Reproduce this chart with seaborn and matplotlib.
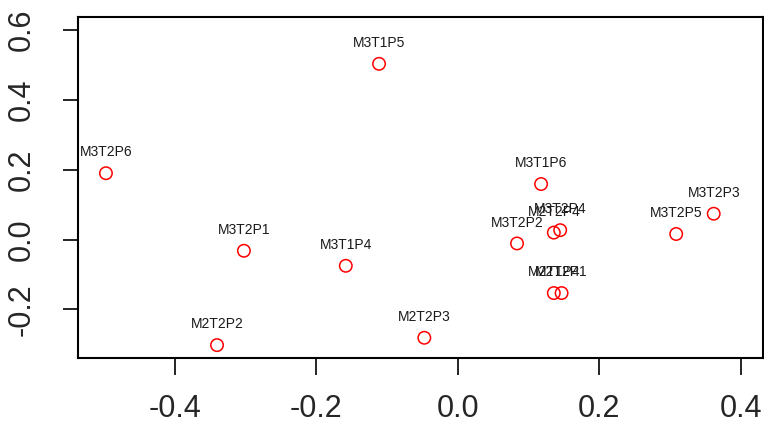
import matplotlib
matplotlib.use("Agg")
import matplotlib.pyplot as plt
import seaborn as sns
import pandas as pd

labels = ["M3T1P5", "M3T2P6", "M3T1P6", "M3T2P3", "M3T2P5", "M2T2P4", "M3T2P4",
          "M3T2P2", "M3T2P1", "M3T1P4", "M2T1P4", "M2T2P1", "M2T2P2", "M2T2P3"]
x_vals = [-0.111, -0.497, 0.118, 0.362, 0.309, 0.136, 0.145,
          0.084, -0.302, -0.158, 0.136, 0.147, -0.340, -0.047]
y_vals = [0.503, 0.190, 0.159, 0.074, 0.016, 0.020, 0.027,
          -0.011, -0.032, -0.075, -0.153, -0.153, -0.302, -0.281]
x_ticks = [-0.4, -0.2, 0.0, 0.2, 0.4]
y_ticks = [-0.2, 0.0, 0.2, 0.4, 0.6]

df = pd.DataFrame({"label": labels, "x": x_vals, "y": y_vals})

sns.set_style("white")
plt.rcParams["font.family"] = ["Liberation Sans", "DejaVu Sans"]

fig = plt.figure(figsize=(7.64, 4.32), dpi=100)
ax = fig.add_axes([0.102, 0.172, 0.897, 0.789])

sns.scatterplot(data=df, x="x", y="y", ax=ax, marker="o", s=80,
                facecolors="none", edgecolor="#ff0000", linewidth=1.1, legend=False)

for lab, xv, yv in zip(labels, x_vals, y_vals):
    ax.annotate(lab, (xv, yv), xytext=(0, 15), textcoords="offset points",
                ha="center", va="center", fontsize=10, color="#1a1a1a")

ax.set_xlim(-0.5366, 0.432)
ax.set_ylim(-0.338, 0.6375)
ax.set_xticks(x_ticks)
ax.set_yticks(y_ticks)
ax.set_xticklabels([f"{v:.1f}" for v in x_ticks], fontsize=22)
ax.set_yticklabels([f"{v:.1f}" for v in y_ticks], fontsize=22, rotation=90, va="center")
ax.tick_params(axis="x", length=12, width=1.2, pad=14, color="black", direction="out", bottom=True)
ax.tick_params(axis="y", length=11, width=1.2, pad=19, color="black", direction="out", left=True)
ax.set_xlabel("")
ax.set_ylabel("")
for sp in ax.spines.values():
    sp.set_color("black")
    sp.set_linewidth(1.5)

fig.savefig("out.png", dpi=100)
